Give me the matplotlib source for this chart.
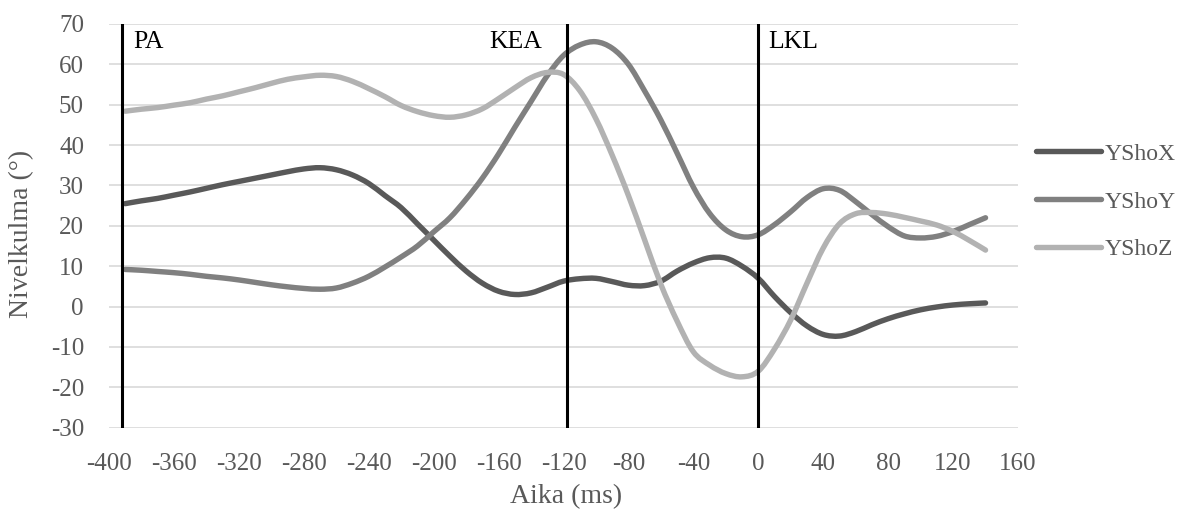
import matplotlib
matplotlib.use("Agg")
import matplotlib.pyplot as plt
from matplotlib.path import Path
from matplotlib.patches import PathPatch
from matplotlib.lines import Line2D

# ---- data ----
time_ms = [-390, -380, -370, -360, -350, -340, -330, -320, -310, -300,
           -290, -280, -270, -260, -250, -240, -230, -220, -210, -200,
           -190, -180, -170, -160, -150, -140, -130, -120, -110, -100,
           -90, -80, -70, -60, -50, -40, -30, -20, -10, 0,
           10, 20, 30, 40, 50, 60, 70, 80, 90, 100,
           110, 120, 130, 140]

ysho_x = [25.5, 26.2, 26.8, 27.6, 28.4, 29.3, 30.2, 31.0, 31.8, 32.6,
          33.4, 34.1, 34.4, 33.9, 32.6, 30.5, 27.5, 24.5, 20.5, 16.5,
          12.5, 8.8, 5.8, 3.8, 3.0, 3.4, 4.8, 6.3, 6.9, 7.0,
          6.2, 5.3, 5.2, 6.3, 8.8, 10.8, 12.1, 12.0, 10.0, 7.0,
          2.5, -1.5, -4.8, -6.9, -7.3, -6.2, -4.5, -3.0, -1.8, -0.8,
          -0.1, 0.4, 0.7, 0.9]

ysho_y = [9.2, 9.0, 8.7, 8.4, 8.0, 7.5, 7.1, 6.6, 6.0, 5.4,
          4.9, 4.5, 4.3, 4.6, 5.8, 7.5, 9.8, 12.3, 15.0, 18.5,
          22.0, 26.6, 31.8, 37.8, 44.4, 50.8, 57.2, 62.2, 64.8, 65.6,
          64.0, 60.0, 53.4, 46.2, 38.0, 29.6, 23.1, 19.0, 17.3, 17.8,
          20.3, 23.5, 27.0, 29.2, 28.8, 26.0, 22.8, 19.8, 17.5, 17.0,
          17.4, 18.6, 20.3, 22.0]

ysho_z = [48.4, 48.9, 49.3, 49.9, 50.5, 51.4, 52.2, 53.2, 54.2, 55.3,
          56.3, 56.9, 57.3, 57.0, 55.8, 54.0, 52.0, 49.8, 48.3, 47.3,
          46.9, 47.5, 49.0, 51.5, 54.2, 56.7, 58.0, 57.5, 53.5, 46.5,
          37.5, 27.5, 16.5, 5.5, -3.6, -11.2, -14.5, -16.6, -17.4, -16.0,
          -10.5, -3.3, 5.8, 14.5, 20.5, 23.0, 23.3, 22.9, 22.1, 21.2,
          20.2, 18.6, 16.4, 14.0]

series_names = ["YShoX", "YShoY", "YShoZ"]
event_times = [-392, -118, 0]
event_labels = ["PA", "KEA", "LKL"]
x_ticks = list(range(-400, 161, 40))
y_ticks = list(range(-30, 71, 10))


def smooth_path(xs, ys):
    """Smoothed (Catmull-Rom style Bezier) path through the data points, like Excel's smoothed lines."""
    n = len(xs)
    verts = [(xs[0], ys[0])]
    codes = [Path.MOVETO]
    for i in range(n - 1):
        x0, y0 = (xs[i - 1], ys[i - 1]) if i > 0 else (xs[i], ys[i])
        x1, y1 = xs[i], ys[i]
        x2, y2 = xs[i + 1], ys[i + 1]
        x3, y3 = (xs[i + 2], ys[i + 2]) if i + 2 < n else (x2, y2)
        c1 = (x1 + (x2 - x0) / 6.0, y1 + (y2 - y0) / 6.0)
        c2 = (x2 - (x3 - x1) / 6.0, y2 - (y3 - y1) / 6.0)
        verts += [c1, c2, (x2, y2)]
        codes += [Path.CURVE4] * 3
    return Path(verts, codes)


# ---- figure ----
plt.rcParams['font.family'] = ['Liberation Serif', 'DejaVu Serif']
W, H = 1188, 516
fig = plt.figure(figsize=(W / 100, H / 100), dpi=100)
left_px, right_px, top_px, bot_px = 109, 1018, 24, 427.7
ax = fig.add_axes([left_px / W, 1 - bot_px / H, (right_px - left_px) / W, (bot_px - top_px) / H])

colors = ["#595959", "#808080", "#b2b2b2"]
handles = []
for vals, name, c in zip([ysho_x, ysho_y, ysho_z], series_names, colors):
    patch = PathPatch(smooth_path(time_ms, vals), facecolor='none', edgecolor=c, lw=3.9,
                      capstyle='round', joinstyle='round', zorder=3)
    ax.add_patch(patch)
    handles.append(Line2D([], [], color=c, lw=3.9, solid_capstyle='round', label=name))

for t in event_times:
    ax.axvline(t, color='black', lw=2.2, zorder=4)

ax.text(-385, 65.5, event_labels[0], ha='left', va='center', fontsize=18.5, color='black')
ax.text(-133, 65.5, event_labels[1], ha='right', va='center', fontsize=18.5, color='black')
ax.text(6, 65.5, event_labels[2], ha='left', va='center', fontsize=18.5, color='black')

ax.set_xlim(-400, 160)
ax.set_ylim(-30, 70)
ax.set_xticks(x_ticks)
ax.set_yticks(y_ticks)
ax.set_xticklabels([str(v) for v in x_ticks])
ax.set_yticklabels([str(v) for v in y_ticks])
ax.grid(axis='y', color='#d9d9d9', lw=1.2)
ax.set_axisbelow(True)
for s in ax.spines.values():
    s.set_visible(False)
ax.tick_params(length=0, labelsize=18, colors='#595959', pad=0)
ax.tick_params(axis='y', pad=18)
ax.tick_params(axis='x', pad=18)

fig.text(22 / W, 1 - 234 / H, "Nivelkulma (°)", rotation=90, ha='center', va='center',
         fontsize=20, color='#595959')
fig.text(566 / W, 1 - 497 / H, "Aika (ms)", ha='center', va='center', fontsize=20, color='#595959')

leg = fig.legend(handles=handles, loc='upper left', bbox_to_anchor=(1036 / W, 1 - 143 / H), frameon=False,
                 fontsize=17, handlelength=2.75, handletextpad=0.15, labelspacing=1.12,
                 borderaxespad=0, borderpad=0)
for t in leg.get_texts():
    t.set_color('#595959')

fig.savefig("out.png", dpi=100)
